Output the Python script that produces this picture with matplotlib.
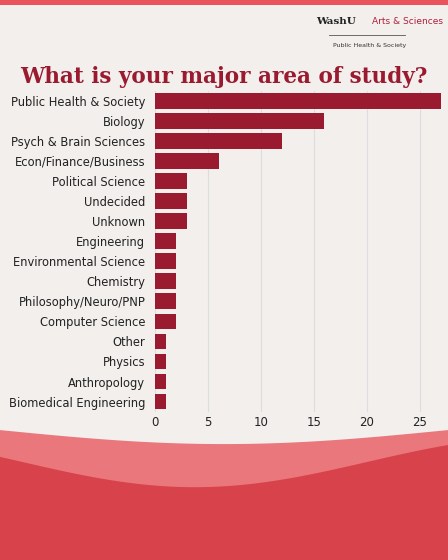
import numpy as np
import matplotlib.pyplot as plt
from matplotlib.patches import Rectangle

majors = ["Public Health & Society", "Biology", "Psych & Brain Sciences",
          "Econ/Finance/Business", "Political Science", "Undecided", "Unknown",
          "Engineering", "Environmental Science", "Chemistry", "Philosophy/Neuro/PNP",
          "Computer Science", "Other", "Physics", "Anthropology", "Biomedical Engineering"]
counts = [27, 16, 12, 6, 3, 3, 3, 2, 2, 2, 2, 2, 1, 1, 1, 1]
ticks = [0, 5, 10, 15, 20, 25]

BG = "#f2efed"
BAR = "#9a1b30"
RED = "#d8424b"

fig = plt.figure(figsize=(4.48, 5.6), dpi=100, facecolor=BG)

# background decoration (top strip + bottom wave)
bg = fig.add_axes([0, 0, 1, 1], zorder=0)
bg.set_xlim(0, 1)
bg.set_ylim(0, 1)
bg.axis("off")
bg.add_patch(Rectangle((0, 0.991), 1, 0.009, color="#e9555a", lw=0))
xx = np.linspace(0, 1, 200)
light = 0.232 - 0.025 * np.sin(np.pi * xx)
dark = 0.175 - 0.045 * np.sin(np.pi * (xx - 0.05) * 1.3)
bg.fill_between(xx, 0, light, color="#e9777c", lw=0)
bg.fill_between(xx, 0, dark, color=RED, lw=0)

fig.text(0.5, 0.862, "What is your major area of study?", ha="center", va="center",
         fontsize=15.5, fontweight="bold", family="DejaVu Serif", color=BAR)
fig.text(0.705, 0.962, "WashU", ha="left", va="center", fontsize=7.5,
         fontweight="bold", family="DejaVu Serif", color="#222222")
fig.text(0.83, 0.962, "Arts & Sciences", ha="left", va="center", fontsize=6.5,
         color="#b0203a")
fig.text(0.825, 0.918, "Public Health & Society", ha="center", va="center",
         fontsize=4.5, color="#333333")
fig.add_artist(plt.Line2D([0.735, 0.905], [0.937, 0.937], color="#555555", lw=0.6))

ax = fig.add_axes([0.346, 0.265, 0.638, 0.573], zorder=1)
ax.set_facecolor("none")
y = np.arange(len(majors))
ax.barh(y, counts, height=0.78, color=BAR, zorder=2)
ax.set_yticks(y)
ax.set_yticklabels(majors, fontsize=8.3, color="#222222")
ax.set_ylim(len(majors) - 0.5, -0.5)
ax.set_xlim(0, 27)
ax.set_xticks(ticks)
ax.tick_params(axis="x", labelsize=8.5, colors="#222222", length=0)
ax.tick_params(axis="y", length=0, pad=7)
ax.grid(axis="x", color="#dddddd", lw=0.8, zorder=0)
for s in ax.spines.values():
    s.set_visible(False)

fig.savefig("out.png", dpi=100, facecolor=BG)
